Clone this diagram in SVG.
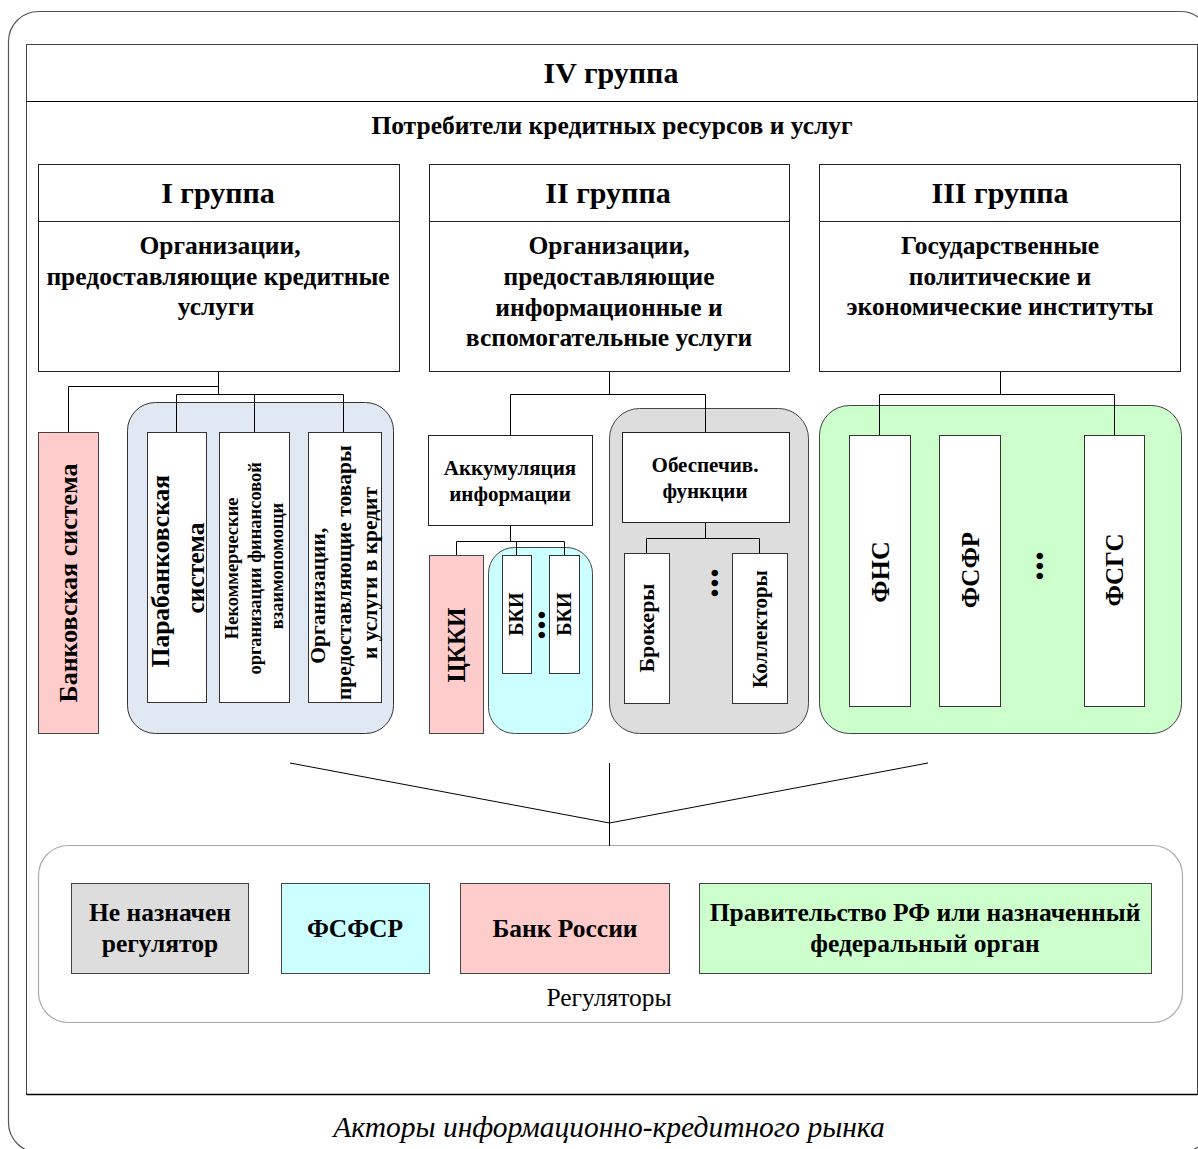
<svg xmlns="http://www.w3.org/2000/svg" width="1198" height="1149" viewBox="0 0 1198 1149">
  <style>
    text { font-family: "Liberation Serif", "Times New Roman", serif; fill: #000; }
    .b { font-weight: bold; }
    .mid { text-anchor: middle; }
    .card { fill: #fff; stroke: #333; stroke-width: 1; }
    .box { fill: #fff; stroke: #222; stroke-width: 1; }
    .pink { fill: #ffcccc; stroke: #444; stroke-width: 1; }
    .cyan { fill: #ccffff; stroke: #444; stroke-width: 1; }
    .grey { fill: #dddddd; stroke: #444; stroke-width: 1; }
    .green { fill: #ccffcc; stroke: #444; stroke-width: 1; }
    .wire { fill: none; stroke: #000; stroke-width: 1; }
    .head { font-size: 30px; }
    .body { font-size: 25.5px; }
    .reg { font-size: 25.5px; }
  </style>

  <!-- outer frame and page -->
  <rect x="8.5" y="11.5" width="1202" height="1141" rx="30" ry="30" fill="#fff" stroke="#555" stroke-width="1.2"/>
  <rect x="26.5" y="44.5" width="1171" height="1050" fill="#fff" stroke="#444" stroke-width="1"/>
  <line x1="26.5" y1="101.5" x2="1197.5" y2="101.5" stroke="#000" stroke-width="1.2"/>
  <line x1="26.5" y1="1094.5" x2="1197.5" y2="1094.5" stroke="#000" stroke-width="1.4"/>

  <g id="group-iv">
    <text class="b mid head" x="611" y="83">IV группа</text>
    <text class="b mid" x="612" y="134" font-size="25.5">Потребители кредитных ресурсов и услуг</text>
  </g>

  <!-- containers -->
  <g id="containers">
    <rect class="grey" x="609.5" y="408.5" width="199" height="325" rx="30"/>
    <rect x="127.5" y="402.5" width="266" height="331" rx="28" fill="#e0e8f4" stroke="#333"/>
    <rect class="cyan" x="488.5" y="547.5" width="104" height="186" rx="26"/>
    <rect class="green" x="819.5" y="405.5" width="362" height="328" rx="30"/>
    <rect x="38.5" y="845.5" width="1144" height="177" rx="30" fill="#fff" stroke="#aaa" stroke-width="1.2"/>
  </g>

  <!-- connectors -->
  <g id="connectors">
    <polyline class="wire" points="218.5,372 218.5,394.5"/>
    <polyline class="wire" points="68.5,432 68.5,386.5 218.5,386.5"/>
    <polyline class="wire" points="176.5,432 176.5,394.5 343.5,394.5 343.5,432"/>
    <line class="wire" x1="254.5" y1="394.5" x2="254.5" y2="432"/>

    <polyline class="wire" points="609.5,372 609.5,394.5"/>
    <polyline class="wire" points="510.5,435 510.5,394.5 705.5,394.5 705.5,432"/>
    <polyline class="wire" points="510.5,525 510.5,541.5"/>
    <polyline class="wire" points="456.5,555 456.5,541.5 564.5,541.5 564.5,555"/>
    <line class="wire" x1="516.5" y1="541.5" x2="516.5" y2="555"/>
    <polyline class="wire" points="705.5,522 705.5,538.5"/>
    <polyline class="wire" points="646.5,553 646.5,538.5 759.5,538.5 759.5,553"/>

    <polyline class="wire" points="1000.5,372 1000.5,394.5"/>
    <polyline class="wire" points="879.5,435 879.5,394.5 1114.5,394.5 1114.5,435"/>

    <polyline class="wire" points="290,763 609.5,823 928,763"/>
    <line class="wire" x1="609.5" y1="763" x2="609.5" y2="846"/>
  </g>

  <!-- I group -->
  <g id="group-i">
    <rect class="box" x="38.5" y="164.5" width="361" height="207"/>
    <line x1="38.5" y1="221.5" x2="399.5" y2="221.5" stroke="#222"/>
    <text class="b mid head" x="218" y="203">I группа</text>
    <text class="b mid body" x="220" y="254">Организации,</text>
    <text class="b mid body" x="218" y="285">предоставляющие кредитные</text>
    <text class="b mid body" x="216" y="315">услуги</text>
  </g>
  <g id="bank-system">
    <rect class="pink" x="38.5" y="432.5" width="60" height="301"/>
    <text class="b mid" transform="translate(68,583) rotate(-90)" x="0" y="9" font-size="26">Банковская система</text>
  </g>
  <g id="parabank">
    <rect class="card" x="147.5" y="432.5" width="59" height="270"/>
    <text class="b mid" transform="translate(177,568) rotate(-90)" font-size="25.5">
      <tspan x="0" y="-8">Парабанковская</tspan>
      <tspan x="0" y="27">система</tspan>
    </text>
  </g>
  <g id="nonprofit">
    <rect class="card" x="219.5" y="432.5" width="70" height="270"/>
    <text class="b mid" transform="translate(254,566) rotate(-90)" font-size="18.5">
      <tspan x="0" y="-16">Некоммерческие</tspan>
      <tspan x="0" y="7">организации финансовой</tspan>
      <tspan x="0" y="29">взаимопомощи</tspan>
    </text>
  </g>
  <g id="trade-credit">
    <rect class="card" x="308.5" y="432.5" width="73" height="270"/>
    <text class="b mid" transform="translate(344,570) rotate(-90)" font-size="21.5">
      <tspan x="-23" y="-19">Организации,</tspan>
      <tspan x="0" y="7">предоставляющие товары</tspan>
      <tspan x="-3" y="33">и услуги в кредит</tspan>
    </text>
  </g>

  <!-- II group -->
  <g id="group-ii">
    <rect class="box" x="429.5" y="164.5" width="360" height="207"/>
    <line x1="429.5" y1="221.5" x2="789.5" y2="221.5" stroke="#222"/>
    <text class="b mid head" x="608" y="203">II группа</text>
    <text class="b mid body" x="609" y="254">Организации,</text>
    <text class="b mid body" x="609" y="285">предоставляющие</text>
    <text class="b mid body" x="609" y="316">информационные и</text>
    <text class="b mid body" x="609" y="346">вспомогательные услуги</text>
  </g>
  <g id="accumulation">
    <rect class="box" x="428.5" y="435.5" width="164" height="90"/>
    <text class="b mid" x="510" y="475" font-size="21">Аккумуляция</text>
    <text class="b mid" x="510" y="501" font-size="21">информации</text>
  </g>
  <g id="ckki">
    <rect class="pink" x="429.5" y="555.5" width="54" height="178"/>
    <text class="b mid" transform="translate(456,645) rotate(-90)" x="0" y="9" font-size="25">ЦККИ</text>
  </g>
  <g id="bki-1">
    <rect class="card" x="502.5" y="555.5" width="29" height="118"/>
    <text class="b mid" transform="translate(516,614) rotate(-90)" x="0" y="7" font-size="20">БКИ</text>
  </g>
  <g id="bki-dots">
    <text class="b mid" transform="translate(540,625) rotate(-90)" x="0" y="5" font-size="40">...</text>
  </g>
  <g id="bki-2">
    <rect class="card" x="549.5" y="555.5" width="30" height="118"/>
    <text class="b mid" transform="translate(564,614) rotate(-90)" x="0" y="7" font-size="20">БКИ</text>
  </g>
  <g id="support">
    <rect class="box" x="622.5" y="432.5" width="167" height="90"/>
    <text class="b mid" x="705" y="472" font-size="21">Обеспечив.</text>
    <text class="b mid" x="705" y="498" font-size="21">функции</text>
  </g>
  <g id="brokers">
    <rect class="card" x="624.5" y="553.5" width="45" height="150"/>
    <text class="b mid" transform="translate(647,628) rotate(-90)" x="0" y="7" font-size="22">Брокеры</text>
  </g>
  <g id="support-dots">
    <text class="b mid" transform="translate(713,583) rotate(-90)" x="0" y="5" font-size="40">...</text>
  </g>
  <g id="collectors">
    <rect class="card" x="732.5" y="553.5" width="55" height="150"/>
    <text class="b mid" transform="translate(760,629) rotate(-90)" x="0" y="7" font-size="21">Коллекторы</text>
  </g>

  <!-- III group -->
  <g id="group-iii">
    <rect class="box" x="819.5" y="164.5" width="361" height="207"/>
    <line x1="819.5" y1="221.5" x2="1180.5" y2="221.5" stroke="#222"/>
    <text class="b mid head" x="1000" y="203">III группа</text>
    <text class="b mid body" x="1000" y="254">Государственные</text>
    <text class="b mid body" x="1000" y="285">политические и</text>
    <text class="b mid body" x="1000" y="315">экономические институты</text>
  </g>
  <g id="fns">
    <rect class="card" x="849.5" y="435.5" width="61" height="271"/>
    <text class="b mid" transform="translate(880,572) rotate(-90)" x="0" y="9" font-size="26">ФНС</text>
  </g>
  <g id="fsfr">
    <rect class="card" x="939.5" y="435.5" width="61" height="271"/>
    <text class="b mid" transform="translate(970,570) rotate(-90)" x="0" y="9" font-size="25">ФСФР</text>
  </g>
  <g id="gov-dots">
    <text class="b mid" transform="translate(1038,566) rotate(-90)" x="0" y="5" font-size="40">...</text>
  </g>
  <g id="fsgs">
    <rect class="card" x="1084.5" y="435.5" width="60" height="271"/>
    <text class="b mid" transform="translate(1114,570) rotate(-90)" x="0" y="9" font-size="25">ФСГС</text>
  </g>

  <!-- regulators -->
  <g id="reg-none">
    <rect class="grey" x="71.5" y="883.5" width="177" height="90"/>
    <text class="b mid reg" x="160" y="921">Не назначен</text>
    <text class="b mid reg" x="160" y="952">регулятор</text>
  </g>
  <g id="reg-fsfsr">
    <rect class="cyan" x="281.5" y="883.5" width="148" height="90"/>
    <text class="b mid reg" x="355" y="937">ФСФСР</text>
  </g>
  <g id="reg-bank">
    <rect class="pink" x="460.5" y="883.5" width="209" height="90"/>
    <text class="b mid reg" x="565" y="937">Банк России</text>
  </g>
  <g id="reg-gov">
    <rect class="green" x="699.5" y="883.5" width="452" height="90"/>
    <text class="b mid reg" x="925" y="921">Правительство РФ или назначенный</text>
    <text class="b mid reg" x="925" y="952">федеральный орган</text>
  </g>
  <text class="mid" x="609" y="1006" font-size="25.5">Регуляторы</text>

  <text class="mid" x="609" y="1137" font-size="29.5" font-style="italic">Акторы информационно-кредитного рынка</text>
</svg>
